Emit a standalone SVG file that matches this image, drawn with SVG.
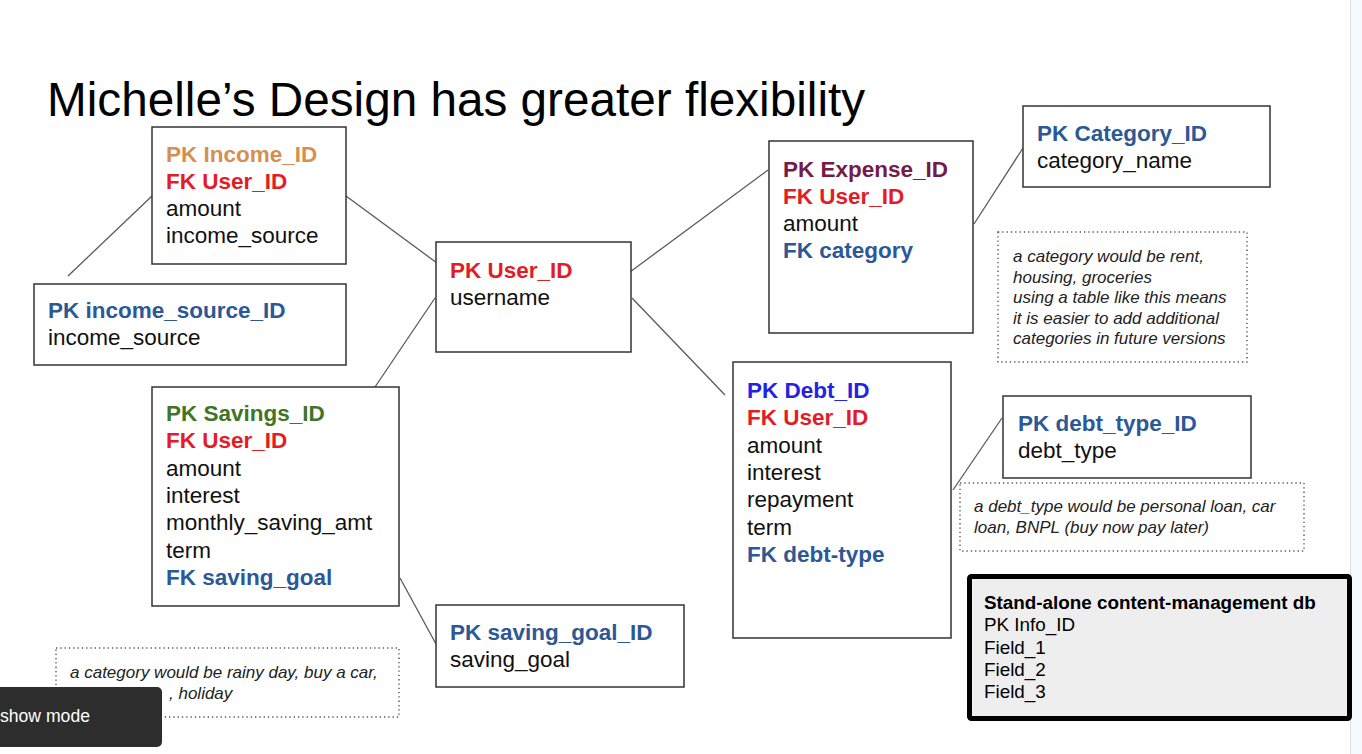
<svg xmlns="http://www.w3.org/2000/svg" width="1362" height="754" viewBox="0 0 1362 754">
<style>
.box{fill:#fff;stroke:#333;stroke-width:1.5}
.note{fill:none;stroke:#555;stroke-width:1.4;stroke-dasharray:1.3 3}
.t{font-family:"Liberation Sans",Arial,sans-serif;font-size:22.5px;fill:#111}
.b{font-weight:bold}
.n{font-family:"Liberation Sans",Arial,sans-serif;font-size:17px;font-style:italic;fill:#222}
.red{fill:#e31c25}
.fk{fill:#2c5895}
.conn line{stroke:#5a5a5a;stroke-width:1.3}
</style>
<rect width="1362" height="754" fill="#fff"/>
<rect x="1350" y="0" width="12" height="754" fill="#f8f9fa"/>
<line x1="1350.5" y1="0" x2="1350.5" y2="754" stroke="#dadce0"/>
<text x="47" y="116" font-family="Liberation Sans, Arial, sans-serif" font-size="47.7" fill="#000">Michelle’s Design has greater flexibility</text>
<g class="conn" id="connectors">
<line x1="152" y1="196" x2="68" y2="276"/>
<line x1="346" y1="196" x2="437" y2="263"/>
<line x1="435" y1="298" x2="375" y2="387"/>
<line x1="630" y1="272" x2="768" y2="170"/>
<line x1="632" y1="298" x2="725" y2="395"/>
<line x1="974" y1="224" x2="1023" y2="148"/>
<line x1="400" y1="578" x2="436" y2="644"/>
<line x1="953" y1="490" x2="1002" y2="418"/>
</g>
<g id="income">
<rect class="box" x="152" y="127" width="194" height="137"/>
<text class="t" x="166" y="162"><tspan class="b" fill="#d68f4e">PK Income_ID</tspan><tspan class="b red" x="166" dy="27">FK User_ID</tspan><tspan x="166" dy="27">amount</tspan><tspan x="166" dy="27">income_source</tspan></text>
</g>
<g id="income_source">
<rect class="box" x="34" y="284" width="312" height="81"/>
<text class="t" x="48" y="318"><tspan class="b fk">PK income_source_ID</tspan><tspan x="48" dy="27">income_source</tspan></text>
</g>
<g id="user">
<rect class="box" x="436" y="242" width="195" height="110"/>
<text class="t" x="450" y="278"><tspan class="b red">PK User_ID</tspan><tspan x="450" dy="27">username</tspan></text>
</g>
<g id="expense">
<rect class="box" x="769" y="141" width="204" height="192"/>
<text class="t" x="783" y="177"><tspan class="b" fill="#741b47">PK Expense_ID</tspan><tspan class="b red" x="783" dy="27">FK User_ID</tspan><tspan x="783" dy="27">amount</tspan><tspan class="b fk" x="783" dy="27">FK category</tspan></text>
</g>
<g id="category">
<rect class="box" x="1023" y="106" width="247" height="81"/>
<text class="t" x="1037" y="141"><tspan class="b fk">PK Category_ID</tspan><tspan x="1037" dy="27">category_name</tspan></text>
</g>
<g id="category_note">
<rect class="note" x="998" y="232" width="249" height="130"/>
<text class="n" x="1013" y="262"><tspan>a category would be rent,</tspan><tspan x="1013" dy="20.5">housing, groceries</tspan><tspan x="1013" dy="20.5">using a table like this means</tspan><tspan x="1013" dy="20.5">it is easier to add additional</tspan><tspan x="1013" dy="20.5">categories in future versions</tspan></text>
</g>
<g id="savings">
<rect class="box" x="152" y="387" width="247" height="219"/>
<text class="t" x="166" y="421"><tspan class="b" fill="#3f7525">PK Savings_ID</tspan><tspan class="b red" x="166" dy="27.3">FK User_ID</tspan><tspan x="166" dy="27.3">amount</tspan><tspan x="166" dy="27.3">interest</tspan><tspan x="166" dy="27.3">monthly_saving_amt</tspan><tspan x="166" dy="27.3">term</tspan><tspan class="b fk" x="166" dy="27.3">FK saving_goal</tspan></text>
</g>
<g id="saving_goal">
<rect class="box" x="436" y="605" width="248" height="82"/>
<text class="t" x="450" y="640"><tspan class="b fk">PK saving_goal_ID</tspan><tspan x="450" dy="27">saving_goal</tspan></text>
</g>
<g id="debt">
<rect class="box" x="733" y="362" width="218" height="276"/>
<text class="t" x="747" y="398"><tspan class="b" fill="#2323e3">PK Debt_ID</tspan><tspan class="b red" x="747" dy="27.3">FK User_ID</tspan><tspan x="747" dy="27.3">amount</tspan><tspan x="747" dy="27.3">interest</tspan><tspan x="747" dy="27.3">repayment</tspan><tspan x="747" dy="27.3">term</tspan><tspan class="b fk" x="747" dy="27.3">FK debt-type</tspan></text>
</g>
<g id="debt_type">
<rect class="box" x="1003" y="396" width="248" height="82"/>
<text class="t" x="1018" y="431"><tspan class="b fk">PK debt_type_ID</tspan><tspan x="1018" dy="27">debt_type</tspan></text>
</g>
<g id="debt_note">
<rect class="note" x="960" y="483" width="344" height="68"/>
<text class="n" x="974" y="512"><tspan>a debt_type would be personal loan, car</tspan><tspan x="974" dy="21">loan, BNPL (buy now pay later)</tspan></text>
</g>
<g id="content_db">
<rect x="969.5" y="576.5" width="380" height="142" fill="#eeeeee" stroke="#000" stroke-width="5" rx="2"/>
<text x="984" y="609" font-family="Liberation Sans, Arial, sans-serif" font-size="18.85" fill="#000"><tspan font-weight="bold">Stand-alone content-management db</tspan><tspan x="984" dy="22.3">PK Info_ID</tspan><tspan x="984" dy="22.3">Field_1</tspan><tspan x="984" dy="22.3">Field_2</tspan><tspan x="984" dy="22.3">Field_3</tspan></text>
</g>
<g id="savings_note">
<rect class="note" x="56" y="648" width="343" height="69"/>
<text class="n" x="70" y="678"><tspan>a category would be rainy day, buy a car,</tspan><tspan x="169" dy="21">, holiday</tspan></text>
</g>
<g id="overlay">
<rect x="-10" y="687" width="172" height="60" rx="5" fill="#2d2d2d"/>
<text x="0" y="722" font-family="Liberation Sans, Arial, sans-serif" font-size="17.6" fill="#fff">show mode</text>
</g>
</svg>
